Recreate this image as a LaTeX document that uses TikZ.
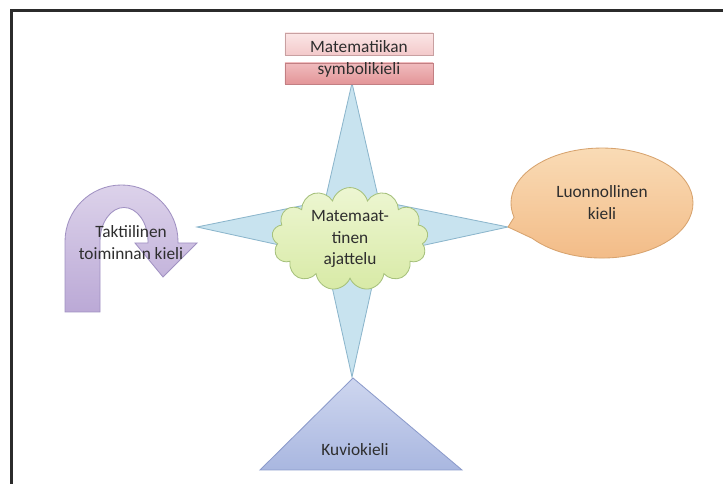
\documentclass[tikz,border=0pt]{standalone}
\usepackage{fontspec}
\setmainfont{Carlito}
\usepackage{tikz}
\usetikzlibrary{positioning,shapes.symbols}
\definecolor{mtgray}{HTML}{2E2E2E}
\definecolor{mtframe}{HTML}{2B2B2B}
\definecolor{mtstar}{HTML}{C8E3EF}
\definecolor{mtstarline}{HTML}{8CB6CC}
\definecolor{mtcloudtop}{HTML}{EDF6D2}
\definecolor{mtcloudbot}{HTML}{D8EAA6}
\definecolor{mtcloudline}{HTML}{A6C17C}
\definecolor{mtpinktop}{HTML}{FBE6E6}
\definecolor{mtpinkbot}{HTML}{F3C9CA}
\definecolor{mtpinkline}{HTML}{C8A0A1}
\definecolor{mtrosetop}{HTML}{F0BCBE}
\definecolor{mtrosebot}{HTML}{E39598}
\definecolor{mtroseline}{HTML}{C27F83}
\definecolor{mtpeachtop}{HTML}{FADDB8}
\definecolor{mtpeachbot}{HTML}{F2BA85}
\definecolor{mtpeachline}{HTML}{D7A36E}
\definecolor{mtbluetop}{HTML}{CED6EF}
\definecolor{mtbluebot}{HTML}{A9B7E0}
\definecolor{mtblueline}{HTML}{8C9BCB}
\definecolor{mtliltop}{HTML}{DCD2EA}
\definecolor{mtlilbot}{HTML}{BBA9D6}
\definecolor{mtlilline}{HTML}{A091C2}

\begin{document}
\begin{tikzpicture}[x=0.025cm, y=0.025cm,
    lbl/.style={font=\fontsize{12.3}{15.6}\selectfont, text=mtgray, align=center},
    symbox/.style={minimum width=3.7cm, inner sep=0pt, line width=0.6pt}]
  \useasboundingbox (0,0) rectangle (723,484);
  \draw[mtframe, line width=1.8pt] (11.5,0) -- (11.5,473.5) -- (723,473.5);

  \draw[mtlilline, line width=0.6pt, top color=mtliltop, bottom color=mtlilbot]
    (65,172) -- (65,242.5) arc[start angle=180, end angle=0, radius=56.5]
    -- (178,241) -- (197,241) -- (163,207) -- (135,241) -- (148,241) -- (148,242.5)
    arc[start angle=0, end angle=180, x radius=24, y radius=34] -- (100,172) -- cycle;
  \node[lbl] (tactile) at (131,241) {Taktiilinen\\toiminnan kieli};

  \draw[mtstarline, line width=0.6pt, fill=mtstar]
    (352,401) -- (379,283) -- (508,257) -- (379,229) -- (352,107)
    -- (325,229) -- (197,257) -- (325,283) -- cycle;

  \node[symbox, minimum height=0.55cm, draw=mtpinkline, top color=mtpinktop, bottom color=mtpinkbot] (symtop) at (359,440) {};
  \node[symbox, minimum height=0.525cm, draw=mtroseline, top color=mtrosetop, bottom color=mtrosebot] (symbot) at (359,410.5) {};
  \node[lbl] (symtext) at (359,425) {Matematiikan\\symbolikieli};

  \node[cloud, cloud puffs=13, aspect=1.55, minimum width=3.9cm, minimum height=2.5cm, inner sep=0pt,
    draw=mtcloudline, line width=0.6pt, top color=mtcloudtop, bottom color=mtcloudbot, lbl] (thinking) at (350,245)
    {Matemaat-\\tinen\\ajattelu};

  \draw[mtpeachline, line width=0.6pt, top color=mtpeachtop, bottom color=mtpeachbot]
    (532.3,245.6) arc[start angle=220, end angle=555, x radius=91, y radius=55] -- (508,257) -- cycle;
  \node[lbl] (natural) at (602,281) {Luonnollinen\\kieli};

  \draw[mtblueline, line width=0.6pt, top color=mtbluetop, bottom color=mtbluebot]
    (353,106) -- (462,14) -- (260,14) -- cycle;
  \node[lbl] (figural) at (355,34) {Kuviokieli};
\end{tikzpicture}
\end{document}
